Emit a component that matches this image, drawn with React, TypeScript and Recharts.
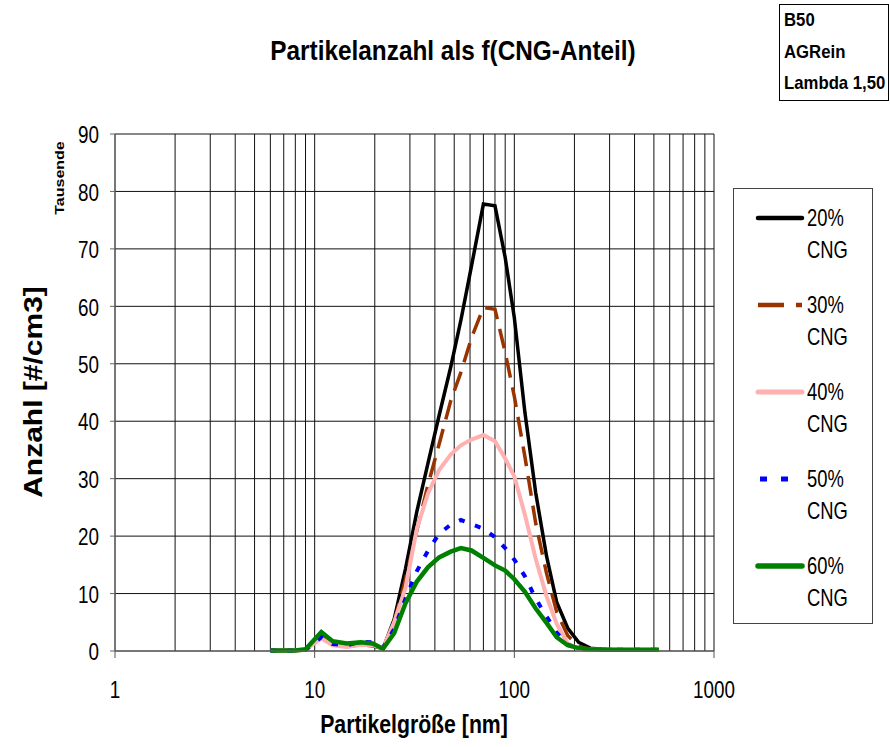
import React from 'react';
import { LineChart, Line, XAxis, YAxis, CartesianGrid, Legend } from 'recharts';

const FONT = '"Liberation Sans", Arial, sans-serif';

// particle size channels [nm]
const sizes = [6, 7, 8, 9, 10.8, 12.3, 14.5, 17, 19.5, 22, 25, 28.5, 32.5, 37, 42, 48, 54, 61, 70, 80, 90, 100, 113, 128, 145, 163, 185, 210, 240, 275, 320, 380, 450, 530];

// counts in thousands #/cm3
const cng20 = [0.1, 0.1, 0.1, 0.2, 2.6, 1.2, 0.8, 1.1, 0.9, 0.4, 5.5, 14.3, 24.3, 32.8, 41, 49.4, 57.6, 67, 77.8, 77.5, 68.5, 58, 41.5, 27.5, 16.5, 8.5, 4, 1.5, 0.5, 0.3, 0.2, 0.2, 0.2, 0.2];
const cng30 = [0.1, 0.1, 0.1, 0.2, 2.7, 1.3, 0.9, 1.3, 1.1, 0.4, 5, 12.5, 21, 29, 36, 43.5, 48.5, 54.5, 59.8, 59.5, 52, 44.3, 33.8, 22.2, 13.5, 6.8, 2.7, 0.8, 0.3, 0.2, 0.2, 0.2, 0.2, 0.2];
const cng40 = [0.1, 0.1, 0.1, 0.2, 2.2, 1.0, 0.7, 1.1, 1.0, 0.5, 5, 11, 21.3, 27.5, 31.5, 34.2, 35.8, 36.8, 37.6, 36.5, 33.5, 30.4, 23.7, 16, 9.5, 4.7, 1.3, 0.4, 0.3, 0.2, 0.2, 0.2, 0.2, 0.2];
const cng50 = [0.1, 0.1, 0.1, 0.2, 2.4, 1.2, 1.0, 1.6, 1.5, 0.6, 3.8, 9.1, 13.9, 17.5, 20.4, 22, 22.8, 22.1, 21.3, 19.8, 17.9, 15.9, 13, 9.1, 6, 3.2, 1.1, 0.4, 0.3, 0.2, 0.2, 0.2, 0.2, 0.2];
const cng60 = [0.1, 0.1, 0.1, 0.3, 3.3, 1.7, 1.3, 1.5, 1.3, 0.4, 3.1, 8.3, 12.1, 14.6, 16.3, 17.3, 17.9, 17.5, 16.2, 14.9, 14, 12.5, 10.3, 7.4, 4.9, 2.4, 1.0, 0.5, 0.3, 0.2, 0.2, 0.2, 0.2, 0.2];

const yTicks = [0, 10, 20, 30, 40, 50, 60, 70, 80, 90];
const xGridTicks = [1, 2, 3, 4, 5, 6, 7, 8, 9, 10, 20, 30, 40, 50, 60, 70, 80, 90, 100, 200, 300, 400, 500, 600, 700, 800, 900, 1000];
const xLabels = [1, 10, 100, 1000];
const infoLines = ['B50', 'AGRein', 'Lambda 1,50'];

const SERIES = [
  { key: 'c20', name: '20% CNG', values: cng20, color: '#000000', width: 3.5, dash: undefined, legendDash: undefined },
  { key: 'c30', name: '30% CNG', values: cng30, color: '#993300', width: 3.5, dash: '20 10', legendDash: '26 12' },
  { key: 'c40', name: '40% CNG', values: cng40, color: '#FFB0B0', width: 4, dash: undefined, legendDash: undefined },
  { key: 'c50', name: '50% CNG', values: cng50, color: '#0000FF', width: 4, dash: '6 11', legendDash: '7 14' },
  { key: 'c60', name: '60% CNG', values: cng60, color: '#008000', width: 4.5, dash: undefined, legendDash: undefined },
];

const data = sizes.map((d, i) => {
  const row: Record<string, number> = { d };
  SERIES.forEach(s => { row[s.key] = s.values[i]; });
  return row;
});

const XTick = (props: any) => {
  const { x, y, payload } = props;
  if (!xLabels.includes(payload.value)) return <g />;
  return (
    <g>
      <line x1={x} y1={y} x2={x} y2={y + 7} stroke="#555" />
      <text transform={`translate(${x},${y + 39}) scale(0.82,1)`} textAnchor="middle" dominantBaseline="central"
        fontSize={23} fill="#000" fontFamily={FONT}>{payload.value}</text>
    </g>
  );
};

const YTick = (props: any) => {
  const { x, y, payload } = props;
  return (
    <text transform={`translate(${x},${y + 1}) scale(0.82,1)`} textAnchor="end" dominantBaseline="central"
      fontSize={23} fill="#000" fontFamily={FONT}>{payload.value}</text>
  );
};

const LegendBox = () => (
  <svg width={140} height={436} style={{ display: 'block' }}>
    <rect x={0.5} y={0.5} width={139} height={435} fill="#fff" stroke="#444" />
    {SERIES.map((s, i) => {
      const cy = 30 + 87 * i;
      const [l1, l2] = s.name.split(' ');
      const isDot = s.key === 'c50';
      return (
        <g key={s.key}>
          <line x1={isDot ? 27 : 25} x2={isDot ? 62 : 69} y1={cy} y2={cy} stroke={s.color} strokeWidth={s.width + 1}
            strokeDasharray={s.legendDash} strokeLinecap={s.dash ? 'butt' : 'round'} />
          <text transform={`translate(74,${cy}) scale(0.8,1)`} dominantBaseline="central" fontSize={23} fill="#000" fontFamily={FONT}>{l1}</text>
          <text transform={`translate(74,${cy + 32}) scale(0.8,1)`} dominantBaseline="central" fontSize={23} fill="#000" fontFamily={FONT}>{l2}</text>
        </g>
      );
    })}
  </svg>
);

export default function App() {
  return (
    <div style={{ position: 'absolute', left: 0, top: 0, width: 890, height: 747, background: '#fff' }}>
      <LineChart width={890} height={747} data={data} margin={{ top: 134, right: 176, bottom: 56, left: 55 }}>
        <CartesianGrid stroke="#111" strokeWidth={1} />
        <XAxis dataKey="d" type="number" scale="log" domain={[1, 1000]} ticks={xGridTicks} interval={0}
          allowDataOverflow height={40} tickSize={0} tickMargin={0} tickLine={false}
          axisLine={{ stroke: '#666' }} tick={<XTick />} />
        <YAxis type="number" domain={[0, 90]} ticks={yTicks} interval={0} width={60} tickSize={5} tickMargin={11}
          tickLine={{ stroke: '#666' }} axisLine={{ stroke: '#666' }} tick={<YTick />} />
        <Legend layout="vertical" align="center" verticalAlign="middle" content={<LegendBox />}
          wrapperStyle={{ left: 733, top: 188, width: 140, height: 436 }} />
        {SERIES.map(s => (
          <Line key={s.key} dataKey={s.key} name={s.name} type="linear" stroke={s.color} strokeWidth={s.width}
            strokeDasharray={s.dash} dot={false} activeDot={false} isAnimationActive={false} />
        ))}
      </LineChart>
      <svg width={890} height={747} style={{ position: 'absolute', left: 0, top: 0, pointerEvents: 'none' }}>
        <text transform="translate(453,50) scale(0.87,1)" textAnchor="middle" dominantBaseline="central"
          fontSize={28} fontWeight="bold" fill="#000" fontFamily={FONT}>Partikelanzahl als f(CNG-Anteil)</text>
        <text transform="translate(414,724) scale(0.85,1)" textAnchor="middle" dominantBaseline="central"
          fontSize={25} fontWeight="bold" fill="#000" fontFamily={FONT}>Partikelgröße [nm]</text>
        <text transform="translate(33,392) rotate(-90) scale(1,0.85)" textAnchor="middle" dominantBaseline="central"
          fontSize={30} fontWeight="bold" fill="#000" fontFamily={FONT}>Anzahl [#/cm3]</text>
        <text transform="translate(60,178) rotate(-90) scale(1,0.82)" textAnchor="middle" dominantBaseline="central"
          fontSize={16} fontWeight="bold" fill="#000" fontFamily={FONT}>Tausende</text>
        <rect x={779.5} y={4.5} width={109} height={96} fill="#fff" stroke="#000" />
        {infoLines.map((t, i) => (
          <text key={t} transform={`translate(784,${20 + i * 31.5}) scale(0.93,1)`} dominantBaseline="central"
            fontSize={18} fontWeight="bold" fill="#000" fontFamily={FONT}>{t}</text>
        ))}
      </svg>
    </div>
  );
}
